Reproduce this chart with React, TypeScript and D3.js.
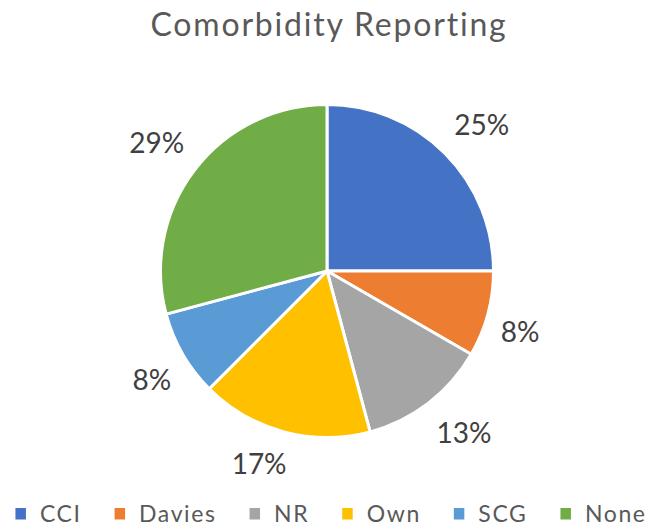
import React from "react";
import * as d3 from "d3";

const categories = ["CCI", "Davies", "NR", "Own", "SCG", "None"];
const counts = [6, 2, 3, 4, 2, 7];
const percentLabels = ["25%", "8%", "13%", "17%", "8%", "29%"];
const colors = ["#4472C4", "#ED7D31", "#A5A5A5", "#FFC000", "#5B9BD5", "#70AD47"];
const title = "Comorbidity Reporting";

const W = 654;
const H = 527;
const FONT = "Lato, 'Open Sans', sans-serif";

function measure(text: string, size: number, spacing: number): number {
  const fallback = text.length * size * 0.55 + spacing * text.length;
  if (typeof document === "undefined") return fallback;
  const c = document.createElement("canvas");
  const ctx = c.getContext("2d");
  if (!ctx) return fallback;
  ctx.font = `${size}px Lato`;
  return ctx.measureText(text).width + spacing * text.length;
}

export default function App() {
  const cx = 327;
  const cy = 271;
  const r = 166.5;
  const labelGap = 180;
  const labelSize = 28;
  const labelH = 38;

  const data = categories.map((c, i) => ({ cat: c, value: counts[i], label: percentLabels[i], color: colors[i] }));
  const pie = d3.pie<any>().value((d) => d.value).sort(null).startAngle(0).endAngle(2 * Math.PI);
  const arcs = pie(data);
  const arc = d3.arc<any>().innerRadius(0).outerRadius(r);

  const clamp = (v: number) => Math.max(-1, Math.min(1, v));

  const legendSize = 23;
  const legendSpacing = 1.6;
  const sq = 10.5;
  const sqGap = 14;
  const itemGap = 33;
  const widths = categories.map((c) => measure(c, legendSize, legendSpacing));
  const itemWidths = widths.map((w) => sq + sqGap + w);
  const total = d3.sum(itemWidths) + itemGap * (categories.length - 1);
  let x0 = 331 - total / 2;
  const legendX: number[] = [];
  itemWidths.forEach((w) => {
    legendX.push(x0);
    x0 += w + itemGap;
  });

  return (
    <svg width={W} height={H} style={{ position: "absolute", left: 0, top: 0, background: "#fff" }}>
      <rect x={0} y={0} width={W} height={H} fill="#fff" />
      <text x={329} y={36} textAnchor="middle" fontFamily={FONT} fontSize={32} letterSpacing={1.8} fill="#595959">
        {title}
      </text>
      <g transform={`translate(${cx},${cy})`}>
        {arcs.map((a, i) => (
          <path key={i} d={arc(a) as string} fill={a.data.color} stroke="#fff" strokeWidth={3} strokeLinejoin="round" />
        ))}
        {arcs.map((a, i) => {
          const mid = (a.startAngle + a.endAngle) / 2;
          const s = Math.sin(mid);
          const c = Math.cos(mid);
          const w = measure(a.data.label, labelSize, 0);
          const lx = labelGap * s + clamp(s * 3) * (w / 2);
          const ly = -labelGap * c - clamp(c * 3) * (labelH / 2);
          return (
            <text key={"l" + i} x={lx} y={ly} dy="0.36em" textAnchor="middle" fontFamily={FONT} fontSize={labelSize} fill="#404040">
              {a.data.label}
            </text>
          );
        })}
      </g>
      {categories.map((c, i) => (
        <g key={"lg" + i}>
          <rect x={legendX[i]} y={508} width={sq} height={sq + 1} fill={colors[i]} />
          <text x={legendX[i] + sq + sqGap} y={521.5} fontFamily={FONT} fontSize={legendSize} letterSpacing={legendSpacing} fill="#595959">
            {c}
          </text>
        </g>
      ))}
    </svg>
  );
}
